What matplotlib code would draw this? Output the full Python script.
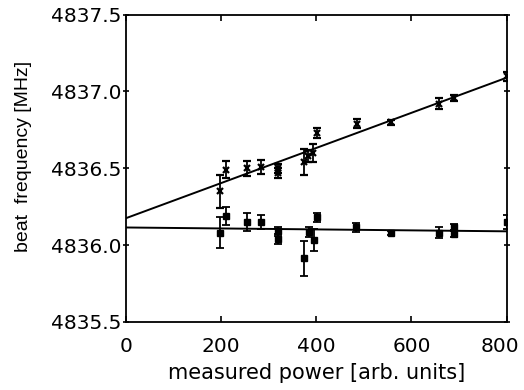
import numpy as np
import matplotlib
matplotlib.use("Agg")
import matplotlib.pyplot as plt
import matplotlib.transforms as mtransforms
from matplotlib.ticker import MultipleLocator, FormatStrFormatter

plt.rcParams['font.family'] = ['Liberation Sans', 'DejaVu Sans']

# upper series (crosses)
x_up = [198, 211, 254, 284, 320, 320, 375, 383, 394, 401, 485, 558, 658, 690, 800]
f_up = [4836.35, 4836.49, 4836.50, 4836.51, 4836.47, 4836.50, 4836.54, 4836.58,
        4836.60, 4836.73, 4836.79, 4836.80, 4836.92, 4836.96, 4837.10]
e_up = [0.105, 0.055, 0.05, 0.045, 0.03, 0.03, 0.085, 0.04, 0.057, 0.03, 0.03,
        0.015, 0.035, 0.02, 0.03]

# lower series (squares)
x_lo = [198, 211, 254, 284, 320, 320, 375, 385, 395, 401, 484, 558, 658, 690, 690, 800]
f_lo = [4836.08, 4836.19, 4836.15, 4836.15, 4836.09, 4836.04, 4835.915, 4836.085,
        4836.035, 4836.18, 4836.115, 4836.08, 4836.08, 4836.07, 4836.12, 4836.15]
e_lo = [0.10, 0.06, 0.06, 0.045, 0.03, 0.03, 0.115, 0.03, 0.07, 0.03, 0.03,
        0.015, 0.035, 0.02, 0.02, 0.045]

# linear fits (value at 0, value at 800)
fit_up = (4836.175, 4837.09)
fit_lo = (4836.115, 4836.09)

fig = plt.figure(figsize=(5.24, 3.9), dpi=100)
ax = fig.add_axes([0.24, 0.1744, 0.727, 0.788])

ax.plot([0, 800], fit_up, color='black', lw=1.4)
ax.plot([0, 800], fit_lo, color='black', lw=1.4)

ax.errorbar(x_up, f_up, yerr=e_up, fmt='x', color='black', ms=4, mew=1.6,
            elinewidth=1.3, capsize=3, capthick=1.3)
ax.errorbar(x_lo, f_lo, yerr=e_lo, fmt='s', color='black', ms=4.5,
            elinewidth=1.3, capsize=3, capthick=1.3)

ax.set_xlim(0, 800)
ax.set_ylim(4835.5, 4837.5)
ax.xaxis.set_major_locator(MultipleLocator(200))
ax.yaxis.set_major_locator(MultipleLocator(0.5))
ax.yaxis.set_major_formatter(FormatStrFormatter('%.1f'))

ax.tick_params(direction='in', top=True, right=True, length=4, width=1.2,
               labelsize=14.5)
ax.tick_params(axis='x', pad=11)
ax.tick_params(axis='y', which='major', left=True, direction='inout', pad=1)
for s in ax.spines.values():
    s.set_linewidth(1.3)

ax.set_xlabel('measured power [arb. units]', fontsize=15, labelpad=5,
              family='DejaVu Sans')
ax.set_ylabel('beat  frequency [MHz]', fontsize=14)
ax.yaxis.set_label_coords(-0.245, 0.54)

fig.canvas.draw()
for lab in ax.get_xticklabels() + ax.get_yticklabels():
    lab.set_family('DejaVu Sans')
# keep the "800" label inside the canvas
last = ax.xaxis.get_major_ticks()[-1].label1
for tk in ax.xaxis.get_major_ticks():
    if tk.label1.get_text() == '800':
        last = tk.label1
last.set_transform(last.get_transform() +
                   mtransforms.ScaledTranslation(-5 / 72, 0, fig.dpi_scale_trans))

fig.savefig('out.png', dpi=100)
